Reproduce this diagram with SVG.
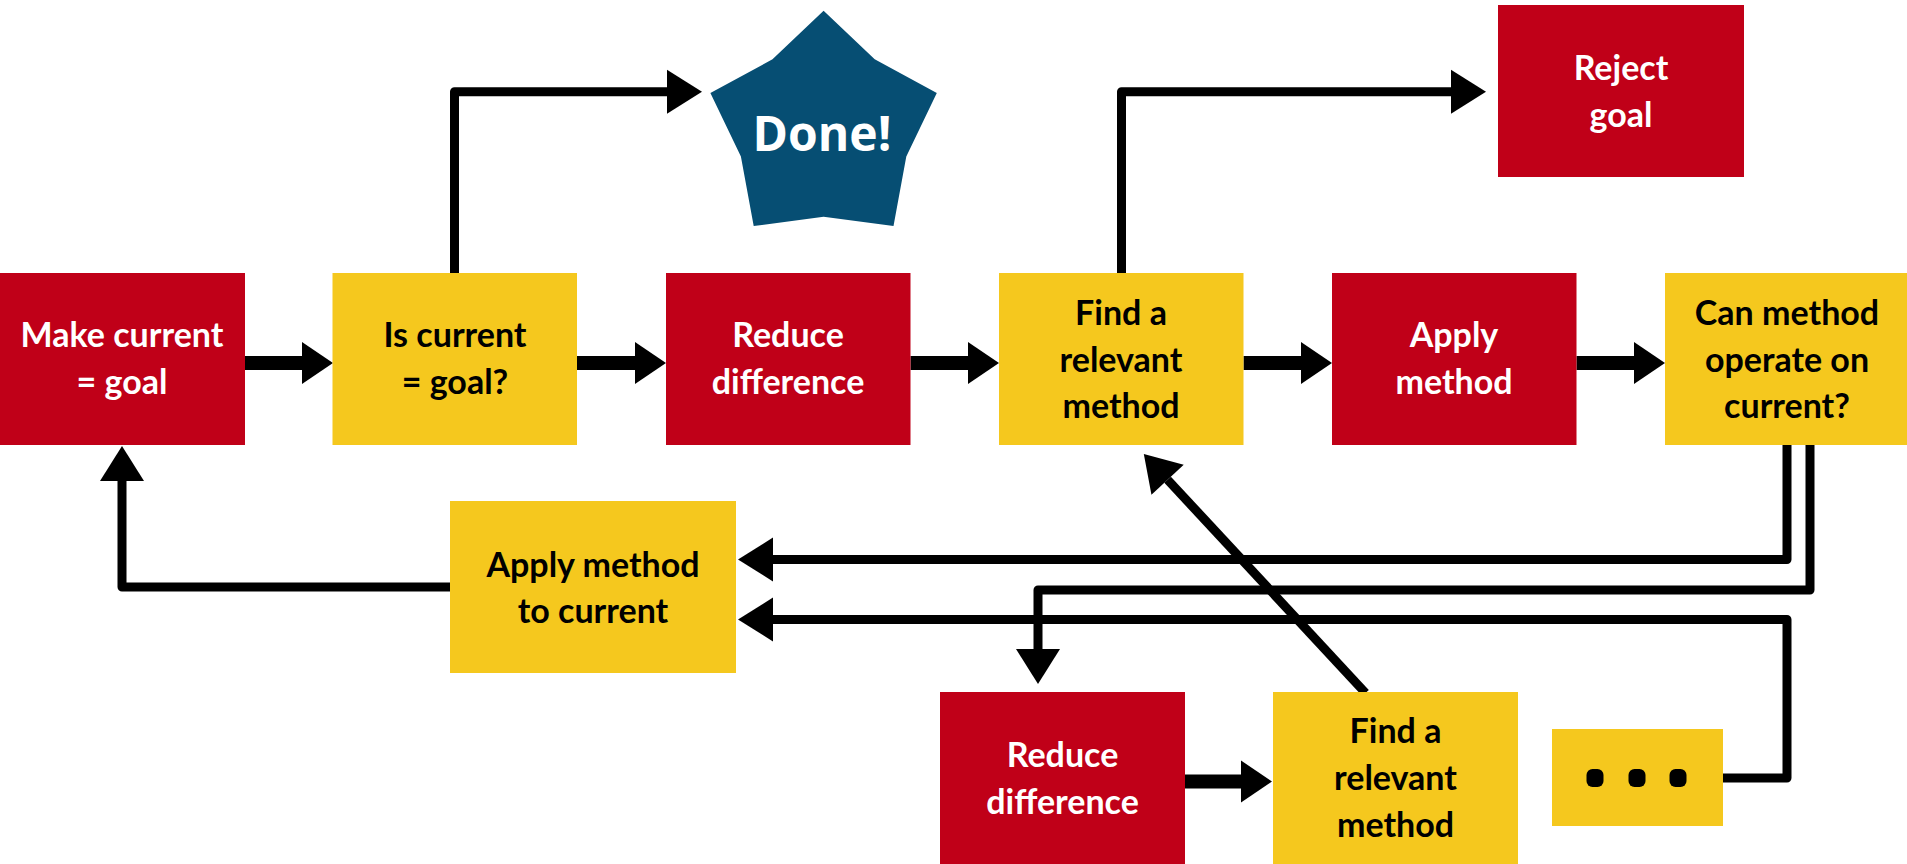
<svg xmlns="http://www.w3.org/2000/svg" width="1907" height="864" viewBox="0 0 1907 864">
<style>
.red{fill:#C00018}
.yel{fill:#F5C81E}
.t{font-family:Lato,"Open Sans","Liberation Sans",sans-serif;font-weight:700;font-size:34px;text-anchor:middle}
.w{fill:#FFFFFF}
.k{fill:#000000}
.thin{fill:none;stroke:#000;stroke-width:9;stroke-linejoin:round;marker-end:url(#ah)}
.thick{fill:none;stroke:#000;stroke-width:14;marker-end:url(#ahb)}
</style>
<defs>
<marker id="ah" markerUnits="userSpaceOnUse" markerWidth="36" markerHeight="44" refX="0" refY="22" orient="auto" overflow="visible">
<path d="M0,0 L35,22 L0,44 Z" fill="#000"/>
</marker>
<marker id="ahb" markerUnits="userSpaceOnUse" markerWidth="32" markerHeight="42" refX="0" refY="21" orient="auto" overflow="visible">
<path d="M0,0 L31,21 L0,42 Z" fill="#000"/>
</marker>
</defs>
<rect width="1907" height="864" fill="#FFFFFF"/>
<g id="connectors">
<path class="thin" d="M454.5,273 V91.7 H667"/>
<path class="thin" d="M1121.5,273 V91.7 H1451"/>
<path class="thin" d="M450,587 H122 V481"/>
<path class="thin" d="M1787,444 V559.5 H773"/>
<path class="thin" d="M1810,444 V590 H1038 V649"/>
<path class="thin" d="M1722,778 H1787 V619.5 H773"/>
<path class="thin" d="M1365.5,693 L1167.6,479.7"/>
<path class="thick" d="M245,363 H302"/>
<path class="thick" d="M577,363 H635"/>
<path class="thick" d="M910.5,363 H968"/>
<path class="thick" d="M1243.5,363 H1301"/>
<path class="thick" d="M1576.5,363 H1634"/>
<path class="thick" d="M1185,781.5 H1241"/>
</g>
<g id="make-current">
<rect class="red" x="0" y="273" width="245" height="172"/>
<text class="t w" x="122" y="347">Make current</text>
<text class="t w" x="122" y="394">= goal</text>
</g>
<g id="is-current">
<rect class="yel" x="332.5" y="273" width="244.5" height="172"/>
<text class="t k" x="455" y="347">Is current</text>
<text class="t k" x="455" y="394">= goal?</text>
</g>
<g id="reduce-1">
<rect class="red" x="666" y="273" width="244.5" height="172"/>
<text class="t w" x="788" y="347">Reduce</text>
<text class="t w" x="788" y="394">difference</text>
</g>
<g id="find-1">
<rect class="yel" x="999" y="273" width="244.5" height="172"/>
<text class="t k" x="1121" y="325">Find a</text>
<text class="t k" x="1121" y="372">relevant</text>
<text class="t k" x="1121" y="418">method</text>
</g>
<g id="apply-method">
<rect class="red" x="1332" y="273" width="244.5" height="172"/>
<text class="t w" x="1454" y="347">Apply</text>
<text class="t w" x="1454" y="394">method</text>
</g>
<g id="can-method">
<rect class="yel" x="1665" y="273" width="244" height="172"/>
<text class="t k" x="1787" y="325">Can method</text>
<text class="t k" x="1787" y="372">operate on</text>
<text class="t k" x="1787" y="418">current?</text>
</g>
<g id="done">
<polygon fill="#064E73" points="823.6,10.7 874.7,59.3 936.8,92.9 906.3,156.6 893.5,226 823.6,216.7 753.7,226 740.9,156.6 710.4,92.9 772.5,59.3"/>
<text x="822" y="151" fill="#FFFFFF" font-family="'Open Sans',Lato,'Liberation Sans',sans-serif" font-weight="700" font-size="48" text-anchor="middle">Done!</text>
</g>
<g id="reject-goal">
<rect class="red" x="1498" y="5" width="246" height="172"/>
<text class="t w" x="1621" y="80">Reject</text>
<text class="t w" x="1621" y="127">goal</text>
</g>
<g id="apply-to-current">
<rect class="yel" x="450" y="501" width="286" height="172"/>
<text class="t k" x="593" y="577">Apply method</text>
<text class="t k" x="593" y="623">to current</text>
</g>
<g id="reduce-2">
<rect class="red" x="940" y="692" width="245" height="172"/>
<text class="t w" x="1062.5" y="767">Reduce</text>
<text class="t w" x="1062.5" y="814">difference</text>
</g>
<g id="find-2">
<rect class="yel" x="1273" y="692" width="245" height="172"/>
<text class="t k" x="1395.5" y="743">Find a</text>
<text class="t k" x="1395.5" y="790">relevant</text>
<text class="t k" x="1395.5" y="837">method</text>
</g>
<g id="more">
<rect class="yel" x="1552" y="729" width="171" height="97"/>
<rect x="1586.5" y="769" width="17" height="18" rx="6" fill="#000"/>
<rect x="1628.5" y="769" width="17" height="18" rx="6" fill="#000"/>
<rect x="1669.5" y="769" width="17" height="18" rx="6" fill="#000"/>
</g>
</svg>
